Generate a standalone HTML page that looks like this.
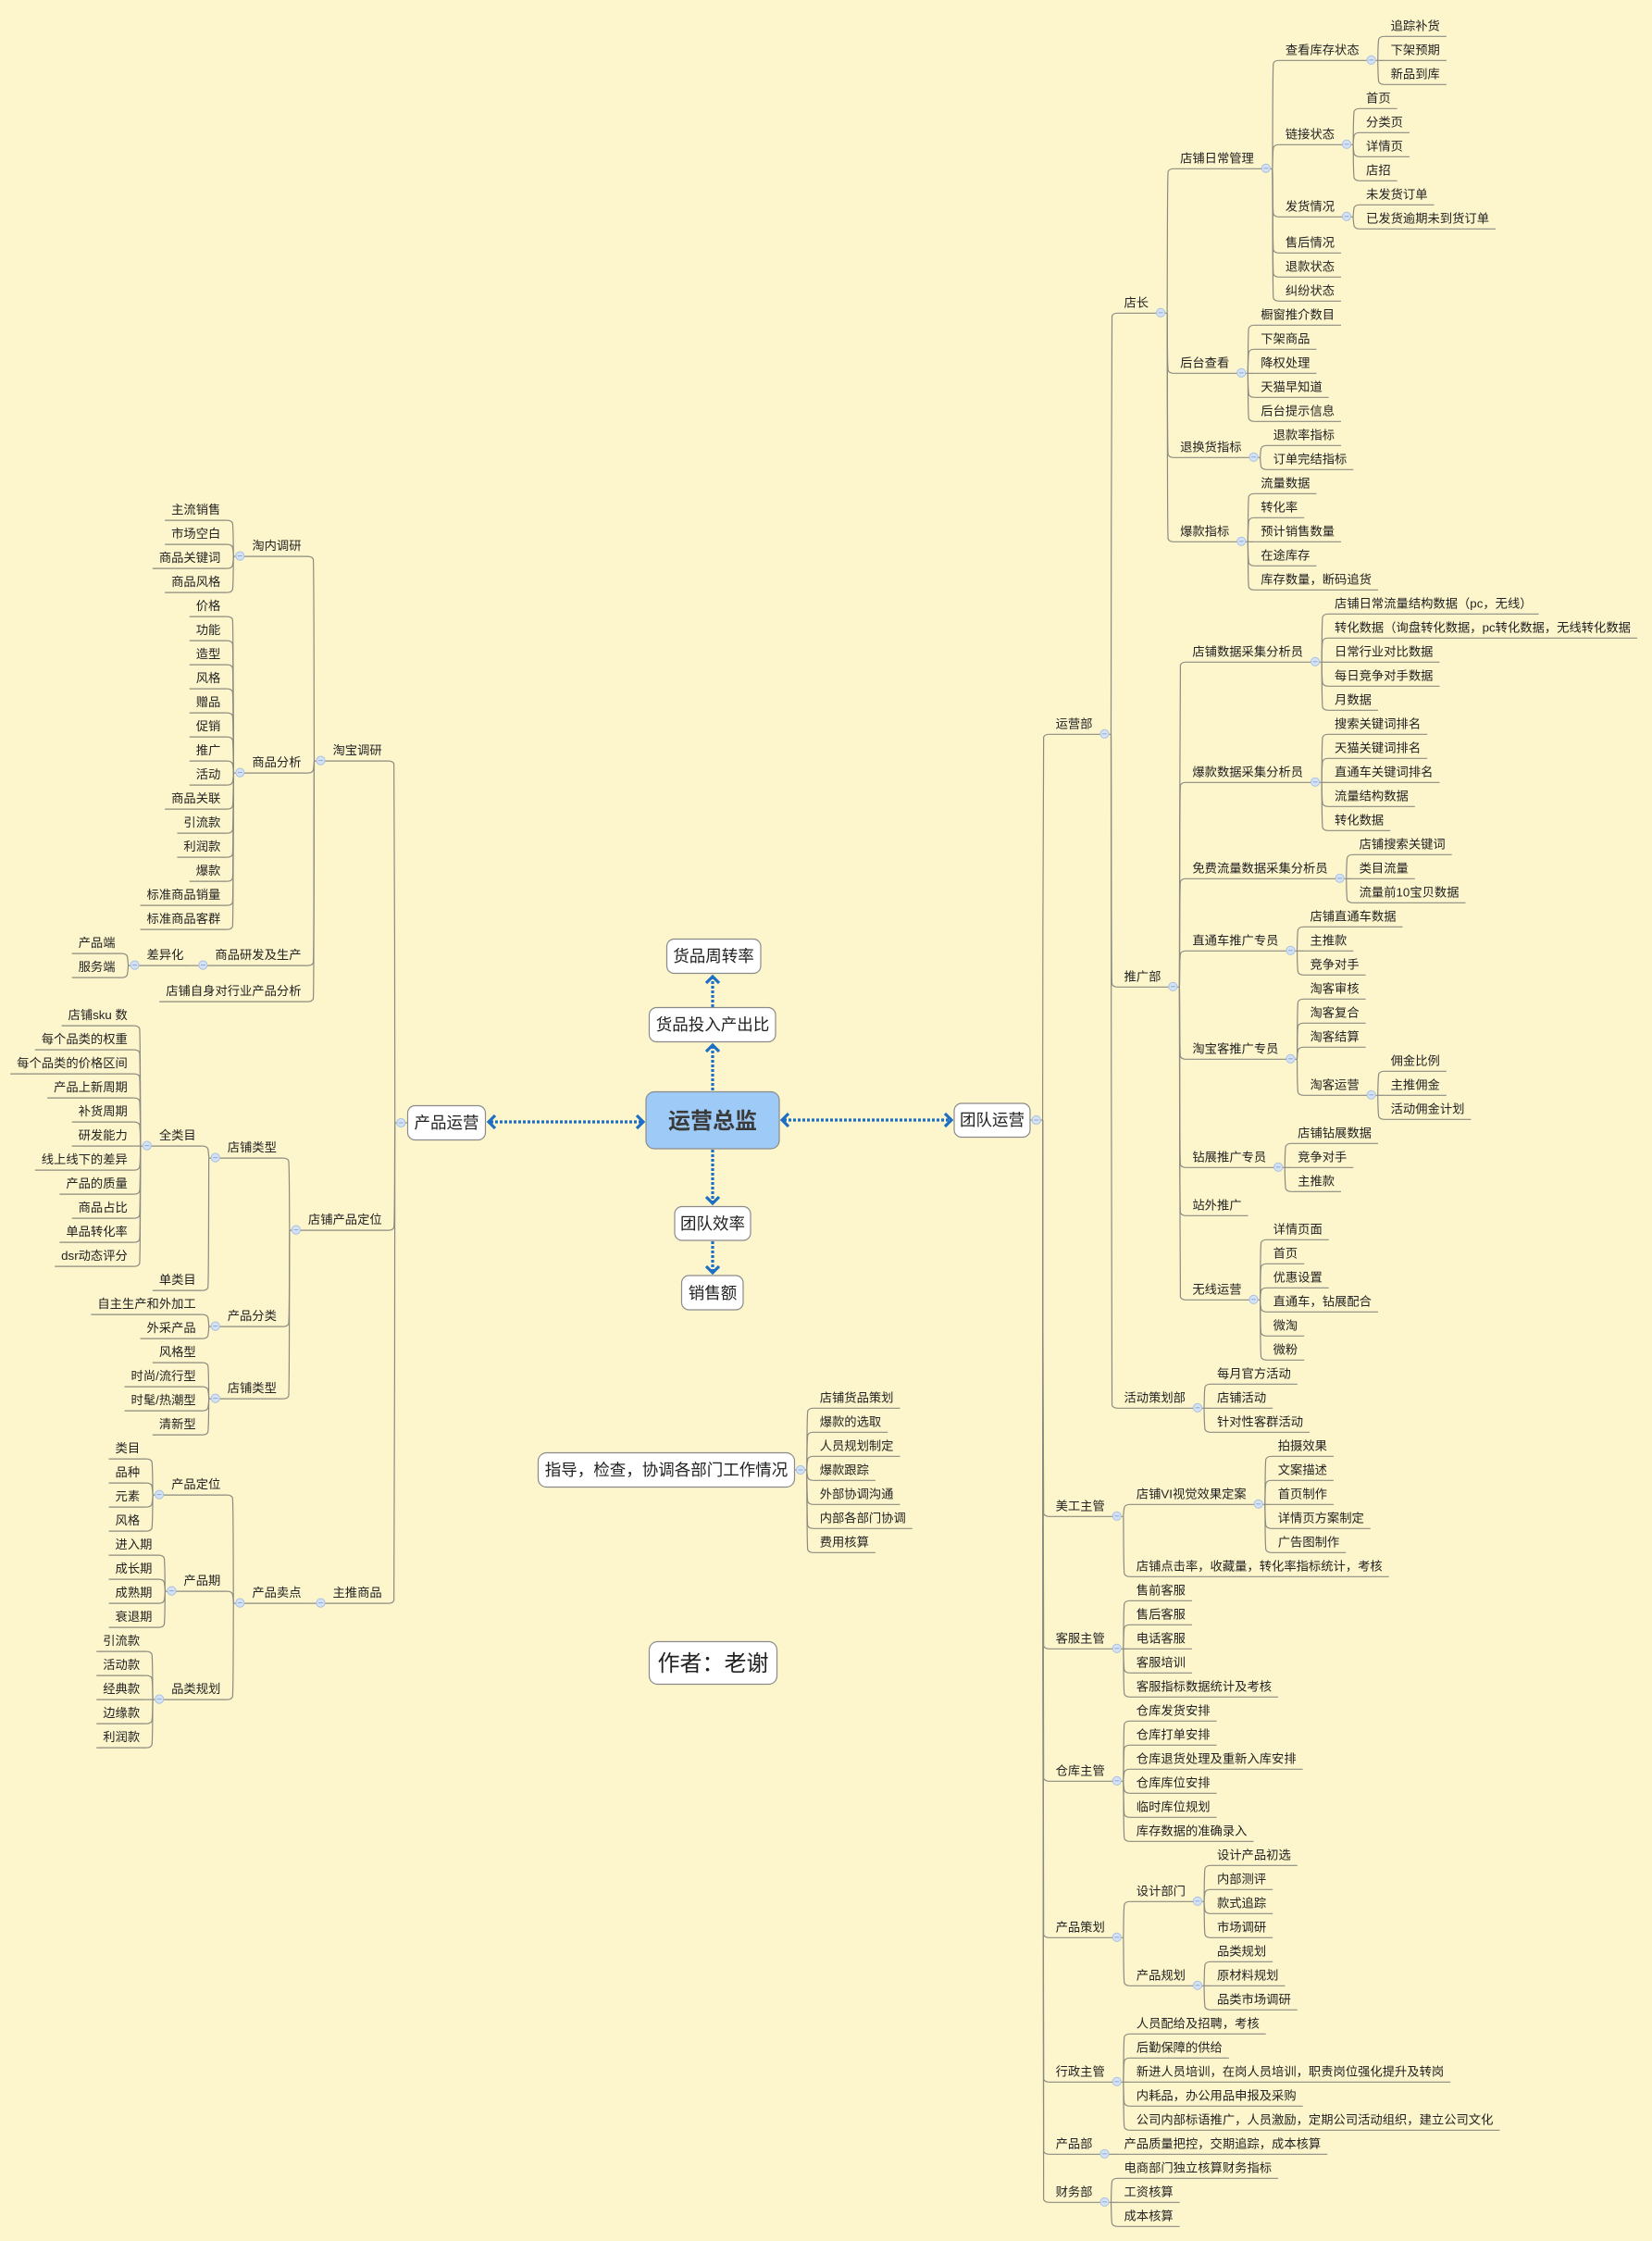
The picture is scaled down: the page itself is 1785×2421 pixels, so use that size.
<!DOCTYPE html>
<html><head><meta charset="utf-8">
<style>
html,body{margin:0;padding:0;background:#fdf6cc;}
svg{display:block;}
text{font-family:"Liberation Sans","Noto Sans CJK SC",sans-serif;fill:#222;}
</style></head>
<body>
<svg id="s" width="1785" height="2421" viewBox="0 0 1785 2421" xmlns="http://www.w3.org/2000/svg">
<rect width="1785" height="2421" fill="#fdf6cc"/>
<g id="lines" fill="none" stroke="#8c8a80" stroke-width="1.2"></g>
<g id="circ"></g>
<g id="txt" font-size="13.3"></g>
<g id="arrows" fill="none" stroke="#1d6fc6" stroke-width="3.2">
  <line x1="530" y1="1212" x2="693" y2="1212" stroke-dasharray="3 2"/>
  <polyline points="535,1205 528,1212 535,1219"/>
  <polyline points="688,1205 695,1212 688,1219"/>
  <line x1="847" y1="1210" x2="1026" y2="1210" stroke-dasharray="3 2"/>
  <polyline points="852,1203 845,1210 852,1217"/>
  <polyline points="1021,1203 1028,1210 1021,1217"/>
  <line x1="770" y1="1178" x2="770" y2="1131" stroke-dasharray="3 2"/>
  <polyline points="763,1136 770,1129 777,1136"/>
  <line x1="770" y1="1088" x2="770" y2="1057" stroke-dasharray="3 2"/>
  <polyline points="763,1062 770,1055 777,1062"/>
  <line x1="770" y1="1242" x2="770" y2="1298" stroke-dasharray="3 2"/>
  <polyline points="763,1293 770,1300 777,1293"/>
  <line x1="770" y1="1341" x2="770" y2="1373" stroke-dasharray="3 2"/>
  <polyline points="763,1368 770,1375 777,1368"/>
</g>
<g id="boxes" stroke="#8a8a8a" stroke-width="1.2">
  <rect x="720.5" y="1014.5" width="101.5" height="37" rx="8" fill="#fff"/>
  <rect x="701.5" y="1088.5" width="136.5" height="37" rx="8" fill="#fff"/>
  <rect x="698" y="1179.5" width="144" height="61.5" rx="9" fill="#9dcaf7"/>
  <rect x="729" y="1303.5" width="82" height="36.5" rx="8" fill="#fff"/>
  <rect x="736.5" y="1378" width="66.5" height="37" rx="8" fill="#fff"/>
  <rect x="1031" y="1192" width="82" height="36.5" rx="8" fill="#fff"/>
  <rect x="440.5" y="1194.5" width="84" height="37" rx="8" fill="#fff"/>
  <rect x="581.5" y="1569.5" width="277" height="37" rx="9" fill="#fff"/>
  <rect x="701.5" y="1773.5" width="138" height="46" rx="9" fill="#fff"/>
</g>
<g font-size="17.5" text-anchor="middle">
  <text x="771" y="1039">货品周转率</text>
  <text x="770" y="1113">货品投入产出比</text>
  <text x="770" y="1219" font-size="24" font-weight="bold" fill="#3a3a3a" style="fill:#3a3a3a">运营总监</text>
  <text x="770" y="1328">团队效率</text>
  <text x="770" y="1403">销售额</text>
  <text x="1072" y="1216">团队运营</text>
  <text x="482.5" y="1219">产品运营</text>
  <text x="720" y="1594">指导，检查，协调各部门工作情况</text>
  <text x="770.5" y="1805" font-size="24">作者：老谢</text>
</g>
</svg>
<script>
var S="http://www.w3.org/2000/svg";
var L=document.getElementById('lines'),C=document.getElementById('circ'),T=document.getElementById('txt');
function el(tag,a,p){var e=document.createElementNS(S,tag);for(var k in a)e.setAttribute(k,a[k]);p.appendChild(e);return e;}
function meas(t){var e=el('text',{x:0,y:-100},T);e.textContent=t;var w=e.getComputedTextLength();T.removeChild(e);return w;}
function circle(x,y){el('circle',{cx:x,cy:y,r:4.6,fill:'#d4e2f6',stroke:'#a9c0e2','stroke-width':1},C);el('line',{x1:x-2.4,y1:y,x2:x+2.4,y2:y,stroke:'#8fa9d3','stroke-width':1},C);}
function conn(tx,puy,ex,uy){
  if(Math.abs(uy-puy)<1){el('path',{d:'M'+tx+' '+puy+' L'+ex+' '+uy},L);return;}
  var s=uy>puy?1:-1, dx=ex-tx;
  el('path',{d:'M'+tx+' '+puy+' C'+(tx+dx*0.05)+' '+(puy+s*4)+' '+tx+' '+(uy-s*10)+' '+(tx+dx*0.15)+' '+(uy-s*3)+' Q'+(tx+dx*0.35)+' '+uy+' '+ex+' '+uy},L);
}
function draw(n,side,y0,tx,puy){
  var t=n[0],r=n[1],ch=n[2],uy=y0+26*r,w=meas(t);
  var x=tx+side*14;
  var e=el('text',{x:x,y:uy-7,'text-anchor':side>0?'start':'end'},T);e.textContent=t;
  var start=tx+side*7;
  conn(tx,puy,start,uy);
  if(ch&&ch.length){
    var ntx=x+side*(w+20);
    el('path',{d:'M'+start+' '+uy+' L'+ntx+' '+uy},L);
    circle(ntx-side*7,uy-0.5);
    ch.forEach(function(c){draw(c,side,y0,ntx,uy);});
  }else{
    el('path',{d:'M'+start+' '+uy+' L'+(x+side*(w+7))+' '+uy},L);
  }
}
function lv(a,s){return a.map(function(t,i){return [t,s+i];});}
var R=[
 ['运营部',29,[
  ['店长',11.5,[
   ['店铺日常管理',5.5,[
     ['查看库存状态',1,lv(['追踪补货','下架预期','新品到库'],0)],
     ['链接状态',4.5,lv(['首页','分类页','详情页','店招'],3)],
     ['发货情况',7.5,lv(['未发货订单','已发货逾期未到货订单'],7)],
     ['售后情况',9],['退款状态',10],['纠纷状态',11]]],
   ['后台查看',14,lv(['橱窗推介数目','下架商品','降权处理','天猫早知道','后台提示信息'],12)],
   ['退换货指标',17.5,lv(['退款率指标','订单完结指标'],17)],
   ['爆款指标',21,lv(['流量数据','转化率','预计销售数量','在途库存','库存数量，断码追货'],19)]]],
  ['推广部',39.5,[
   ['店铺数据采集分析员',26,lv(['店铺日常流量结构数据（pc，无线）','转化数据（询盘转化数据，pc转化数据，无线转化数据','日常行业对比数据','每日竞争对手数据','月数据'],24)],
   ['爆款数据采集分析员',31,lv(['搜索关键词排名','天猫关键词排名','直通车关键词排名','流量结构数据','转化数据'],29)],
   ['免费流量数据采集分析员',35,lv(['店铺搜索关键词','类目流量','流量前10宝贝数据'],34)],
   ['直通车推广专员',38,lv(['店铺直通车数据','主推款','竞争对手'],37)],
   ['淘宝客推广专员',42.5,lv(['淘客审核','淘客复合','淘客结算'],40).concat([['淘客运营',44,lv(['佣金比例','主推佣金','活动佣金计划'],43)]])],
   ['钻展推广专员',47,lv(['店铺钻展数据','竞争对手','主推款'],46)],
   ['站外推广',49],
   ['无线运营',52.5,lv(['详情页面','首页','优惠设置','直通车，钻展配合','微淘','微粉'],50)]]],
  ['活动策划部',57,lv(['每月官方活动','店铺活动','针对性客群活动'],56)]]],
 ['美工主管',61.5,[
  ['店铺VI视觉效果定案',61,lv(['拍摄效果','文案描述','首页制作','详情页方案制定','广告图制作'],59)],
  ['店铺点击率，收藏量，转化率指标统计，考核',64]]],
 ['客服主管',67,lv(['售前客服','售后客服','电话客服','客服培训','客服指标数据统计及考核'],65)],
 ['仓库主管',72.5,lv(['仓库发货安排','仓库打单安排','仓库退货处理及重新入库安排','仓库库位安排','临时库位规划','库存数据的准确录入'],70)],
 ['产品策划',79,[
  ['设计部门',77.5,lv(['设计产品初选','内部测评','款式追踪','市场调研'],76)],
  ['产品规划',81,lv(['品类规划','原材料规划','品类市场调研'],80)]]],
 ['行政主管',85,lv(['人员配给及招聘，考核','后勤保障的供给','新进人员培训，在岗人员培训，职责岗位强化提升及转岗','内耗品，办公用品申报及采购','公司内部标语推广，人员激励，定期公司活动组织，建立公司文化'],83)],
 ['产品部',88,[['产品质量把控，交期追踪，成本核算',88]]],
 ['财务部',90,lv(['电商部门独立核算财务指标','工资核算','成本核算'],89)]
];
var Lf=[
 ['淘宝调研',10,[
  ['淘内调研',1.5,lv(['主流销售','市场空白','商品关键词','商品风格'],0)],
  ['商品分析',10.5,lv(['价格','功能','造型','风格','赠品','促销','推广','活动','商品关联','引流款','利润款','爆款','标准商品销量','标准商品客群'],4)],
  ['商品研发及生产',18.5,[['差异化',18.5,lv(['产品端','服务端'],18)]]],
  ['店铺自身对行业产品分析',20]]],
 ['店铺产品定位',29.5,[
  ['店铺类型',26.5,[['全类目',26,lv(['店铺sku 数','每个品类的权重','每个品类的价格区间','产品上新周期','补货周期','研发能力','线上线下的差异','产品的质量','商品占比','单品转化率','dsr动态评分'],21)],['单类目',32]]],
  ['产品分类',33.5,lv(['自主生产和外加工','外采产品'],33)],
  ['店铺类型',36.5,lv(['风格型','时尚/流行型','时髦/热潮型','清新型'],35)]]],
 ['主推商品',45,[['产品卖点',45,[
  ['产品定位',40.5,lv(['类目','品种','元素','风格'],39)],
  ['产品期',44.5,lv(['进入期','成长期','成熟期','衰退期'],43)],
  ['品类规划',49,lv(['引流款','活动款','经典款','边缘款','利润款'],47)]]]]]
];
var G=[['指导',0,lv(['店铺货品策划','爆款的选取','人员规划制定','爆款跟踪','外部协调沟通','内部各部门协调','费用核算'],57)]];
// right root
el('path',{d:'M1113 1210 L1126.6 1210'},L);circle(1119.7,1210);
R.forEach(function(n){draw(n,1,39.3,1126.6,1210);});
// left root
el('path',{d:'M440.5 1213 L426.7 1213'},L);circle(433.3,1213);
Lf.forEach(function(n){draw(n,-1,562.1,426.7,1213);});
// guidance box
el('path',{d:'M858.5 1588 L871.7 1588'},L);circle(865,1588);
G[0][2].forEach(function(n){draw(n,1,39.3,871.7,1588);});
</script>
</body></html>
